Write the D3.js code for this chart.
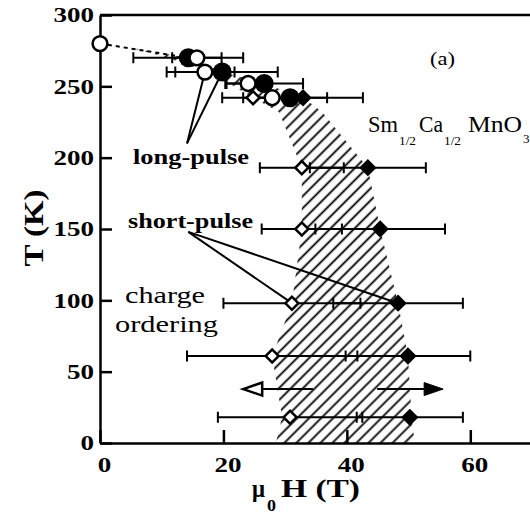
<!DOCTYPE html>
<html>
<head>
<meta charset="utf-8">
<script src="https://cdn.jsdelivr.net/npm/d3@7"></script>
<style>
  html, body { margin: 0; padding: 0; background: #fff; }
  svg { display: block; }
  text { font-family: "Liberation Serif", "Times New Roman", serif; fill: #000; }
</style>
</head>
<body>
<svg id="chart" width="530" height="516"></svg>
<script>
// Sm1/2Ca1/2MnO3 charge-ordering phase diagram: T vs mu0H
// Each point: [field H (T), temperature T (K), field error (T)]
const longPulseOpen = [
  [0, 280, 0], [15.7, 270, 4], [17.0, 260, 4.8], [24.0, 252, 3.5], [27.9, 242, 0]
];
const longPulseFilled = [
  [14.3, 270, 8.9], [19.8, 260, 9], [26.6, 252, 6.3], [30.8, 242, 6]
];
const shortPulseOpen = [
  [24.8, 242, 5], [32.7, 193, 6.8], [32.7, 150, 6.5], [31.1, 98, 11.1], [27.9, 61, 13.8], [30.8, 18, 11.7]
];
const shortPulseFilled = [
  [32.9, 242, 9.7], [43.4, 193, 9.4], [45.4, 150, 10.5], [48.3, 98, 10.5], [49.9, 61, 10.1], [50.2, 18, 8.6]
];
// hysteresis (hatched) region boundaries
const hatchUpper = [
  [5, 277], [14.3, 270], [19.8, 260], [26.6, 252], [33, 242], [36, 232], [43.4, 193],
  [45.4, 150], [48.3, 98], [49.9, 61], [50.5, 18], [51, 0]
];
const hatchLower = [
  [28.5, 0], [29.5, 18], [27.9, 61], [31.1, 98], [32.7, 150], [32.7, 193], [29, 232],
  [24, 244], [21, 252], [16, 262], [11, 270], [5, 277]
];
const dashedBoundary = [[0, 280], [14.3, 270]];
// sweep-direction arrows at fixed T
const arrows = [
  { from: [34.5, 37.8], to: [23.2, 37.8], head: "open" },
  { from: [44.9, 37.8], to: [55.6, 37.8], head: "filled" }
];
const xTicks = [0, 20, 40, 60];
const yTicks = [0, 50, 100, 150, 200, 250, 300];

const svg = d3.select("#chart");
const x = d3.scaleLinear().domain([0, 70]).range([100, 532]);
const y = d3.scaleLinear().domain([0, 300]).range([443, 15]);

// hatch pattern
const defs = svg.append("defs");
const pat = defs.append("pattern")
  .attr("id", "hatch")
  .attr("patternUnits", "userSpaceOnUse")
  .attr("width", 8.5).attr("height", 8.5)
  .attr("patternTransform", "rotate(45)");
pat.append("line")
  .attr("x1", 4.25).attr("y1", 0).attr("x2", 4.25).attr("y2", 8.5)
  .attr("stroke", "#000").attr("stroke-width", 1.8);

const line = d3.line().x(d => x(d[0])).y(d => y(d[1]));

svg.append("path")
  .attr("d", line(hatchUpper.concat(hatchLower)) + "Z")
  .attr("fill", "url(#hatch)")
  .attr("stroke", "none");

svg.append("path")
  .attr("d", line(dashedBoundary))
  .attr("fill", "none").attr("stroke", "#000")
  .attr("stroke-width", 2).attr("stroke-dasharray", "4,4");

// axes
const yAxis = d3.axisLeft(y).tickValues(yTicks).tickSizeInner(-12).tickSizeOuter(0).tickPadding(6);
const xAxis = d3.axisBottom(x).tickValues(xTicks).tickSizeInner(-13).tickSizeOuter(0).tickPadding(14);

const gy = svg.append("g").attr("transform", `translate(${x(0)},0)`).call(yAxis);
const gx = svg.append("g").attr("transform", `translate(0,${y(0)})`).call(xAxis);

[gx, gy].forEach(g => {
  g.select(".domain").attr("stroke", "#000").attr("stroke-width", 2.5);
  g.selectAll(".tick line").attr("stroke", "#000").attr("stroke-width", 2.5);
  g.selectAll(".tick text")
    .attr("font-family", "Liberation Serif, Times New Roman, serif")
    .attr("font-weight", "bold")
    .attr("font-size", 21)
    .attr("fill", "#000")
    .attr("textLength", d => String(d).length * 13.5)
    .attr("lengthAdjust", "spacingAndGlyphs");
});
gx.selectAll(".tick text").attr("dx", 4);

// top and right frame
svg.append("path")
  .attr("d", `M${x(0)},${y(300)}H${x(70)}V${y(0)}`)
  .attr("fill", "none").attr("stroke", "#000").attr("stroke-width", 2.5);

// pointer lines from annotation labels to markers
const pointers = [
  { from: [14.1, 210], to: [17.0, 260] },
  { from: [14.1, 210], to: [19.8, 260] },
  { from: [14.3, 148], to: [31.1, 98] },
  { from: [14.3, 148], to: [48.3, 98] }
];
svg.append("g").selectAll("line").data(pointers).join("line")
  .attr("x1", d => x(d.from[0])).attr("y1", d => y(d.from[1]))
  .attr("x2", d => x(d.to[0])).attr("y2", d => y(d.to[1]))
  .attr("stroke", "#000").attr("stroke-width", 2);

// error bars
const allPoints = longPulseFilled.concat(longPulseOpen, shortPulseOpen, shortPulseFilled).filter(d => d[2] > 0);
const eb = svg.append("g").attr("stroke", "#000").attr("stroke-width", 2).attr("fill", "none");
eb.selectAll("path").data(allPoints).join("path")
  .attr("d", d => {
    const x0 = x(d[0] - d[2]), x1 = x(d[0] + d[2]), yy = y(d[1]);
    return `M${x0},${yy}H${x1}M${x0},${yy - 5.5}V${yy + 5.5}M${x1},${yy - 5.5}V${yy + 5.5}`;
  });

// markers
svg.append("g").selectAll("circle").data(longPulseFilled).join("circle")
  .attr("cx", d => x(d[0])).attr("cy", d => y(d[1])).attr("r", 9.5)
  .attr("fill", "#000");
svg.append("g").selectAll("circle").data(longPulseOpen).join("circle")
  .attr("cx", d => x(d[0])).attr("cy", d => y(d[1])).attr("r", 7.4)
  .attr("fill", "#fff").attr("stroke", "#000").attr("stroke-width", 2.5);

const diamondOpen = d3.symbol(d3.symbolSquare, 85)();
const diamondFilled = d3.symbol(d3.symbolSquare, 150)();
svg.append("g").selectAll("path").data(shortPulseOpen).join("path")
  .attr("d", diamondOpen)
  .attr("transform", d => `translate(${x(d[0])},${y(d[1])}) rotate(45)`)
  .attr("fill", "#fff").attr("stroke", "#000").attr("stroke-width", 2.5);
svg.append("g").selectAll("path").data(shortPulseFilled).join("path")
  .attr("d", diamondFilled)
  .attr("transform", d => `translate(${x(d[0])},${y(d[1])}) rotate(45)`)
  .attr("fill", "#000");

// arrows
const ag = svg.append("g");
arrows.forEach(a => {
  const x0 = x(a.from[0]), x1 = x(a.to[0]), yy = y(a.from[1]);
  const dir = Math.sign(x1 - x0);
  const headLen = 19, headHalf = 6.5;
  const base = x1 - dir * headLen;
  ag.append("line").attr("x1", x0).attr("y1", yy).attr("x2", base).attr("y2", yy)
    .attr("stroke", "#000").attr("stroke-width", 2);
  ag.append("path")
    .attr("d", `M${x1},${yy}L${base},${yy - headHalf}L${base},${yy + headHalf}Z`)
    .attr("fill", a.head === "open" ? "#fff" : "#000")
    .attr("stroke", "#000").attr("stroke-width", a.head === "open" ? 2.5 : 1)
    .attr("stroke-linejoin", "miter");
});

// text annotations
function label(txt, px, py, size, weight, len, anchor) {
  const t = svg.append("text")
    .attr("x", px).attr("y", py)
    .attr("font-size", size)
    .attr("font-weight", weight)
    .attr("text-anchor", anchor || "start")
    .text(txt);
  if (len) t.attr("textLength", len).attr("lengthAdjust", "spacingAndGlyphs");
  return t;
}
label("long-pulse", 133, 164, 20, "bold", 116);
label("short-pulse", 128, 228, 20, "bold", 125);
label("charge", 125, 303, 24, "normal", 80);
label("ordering", 115, 332, 24, "normal", 103);
label("(a)", 430, 65, 19, "normal", 25);

// chemical formula
label("Sm", 368, 132, 23, "normal", 30);
label("1/2", 399, 145, 13, "normal", 17);
label("Ca", 419, 132, 23, "normal", 24);
label("1/2", 444, 145, 13, "normal", 17);
label("MnO", 468, 132, 23, "normal", 54);
label("3", 523, 143, 13, "normal");

// axis titles
label("μ", 252, 497, 26, "bold", 13);
label("0", 267, 511, 16, "bold", 9);
label("H (T)", 281, 497, 26, "bold", 79);
label("T (K)", 0, 0, 27, "bold", 77, "middle")
  .attr("x", null).attr("y", null)
  .attr("transform", "translate(43,228) rotate(-90)");
</script>
</body>
</html>
